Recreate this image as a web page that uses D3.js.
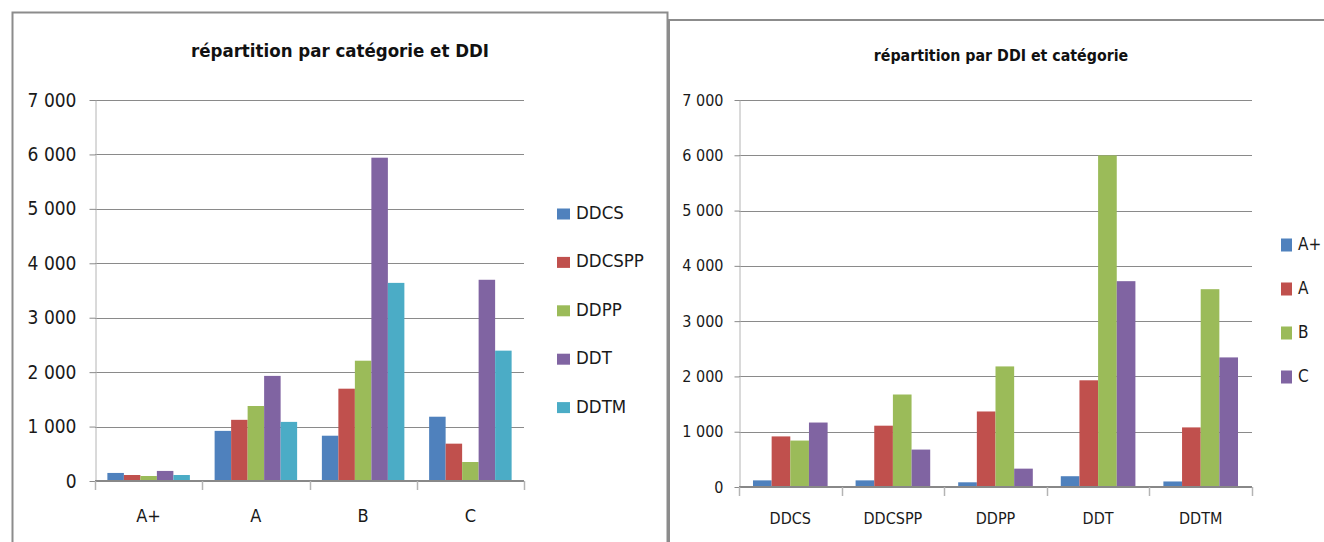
<!DOCTYPE html>
<html>
<head>
<meta charset="utf-8">
<script src="https://cdn.jsdelivr.net/npm/d3@7"></script>
<style>
  body { margin: 0; background: #fff; }
  svg { display: block; font-family: "Liberation Sans Narrow", "Arial Narrow", "DejaVu Sans Condensed", sans-serif; }
</style>
</head>
<body>
<svg id="chart" width="1324" height="542"></svg>
<script>
// ---- data ------------------------------------------------------------
var categories = ['A+', 'A', 'B', 'C'];
var ddis = ['DDCS', 'DDCSPP', 'DDPP', 'DDT', 'DDTM'];
var yTicks = [0, 1000, 2000, 3000, 4000, 5000, 6000, 7000];

// left chart: one array per DDI, values for A+, A, B, C
var ddcsByCat   = [148, 921, 832, 1181];
var ddcsppByCat = [110, 1124, 1696, 686];
var ddppByCat   = [92, 1378, 2210, 349];
var ddtByCat    = [185, 1931, 5940, 3697];
var ddtmByCat   = [110, 1086, 3640, 2395];

// right chart: one array per category, values for DDCS, DDCSPP, DDPP, DDT, DDTM
var aPlusByDdi = [120, 120, 85, 195, 100];
var aByDdi     = [915, 1109, 1366, 1930, 1078];
var bByDdi     = [840, 1673, 2181, 5998, 3578];
var cByDdi     = [1166, 677, 332, 3723, 2344];

var colors = ['#4F81BD', '#C0504D', '#9BBB59', '#8064A2', '#4BACC6'];

var fmt = d3.formatLocale({ decimal: ',', thousands: ' ', grouping: [3], currency: ['', ''] }).format(',');

var svg = d3.select('#chart');

// frames around each chart (their far edges run off the page)
svg.append('rect')
    .attr('x', 12.5).attr('y', 12.5).attr('width', 655).attr('height', 560)
    .attr('fill', 'none').attr('stroke', '#8c8c8c').attr('stroke-width', 2);
svg.append('rect')
    .attr('x', 669).attr('y', 20).attr('width', 700).attr('height', 560)
    .attr('fill', 'none').attr('stroke', '#8c8c8c').attr('stroke-width', 2);

// draws one clustered bar chart
//- - - - - - - - - - - - - - - - - - - - - -
var drawChart = function (config) {
    var g = svg.append('g');
    var series = config.series;

    var x0 = d3.scaleBand().domain(config.categories).range([config.left, config.right]).padding(0);
    var x1 = d3.scaleBand().domain(series.map(function (s) { return s.name; }))
        .range([0, x0.bandwidth()]).paddingInner(0).paddingOuter(0.75);
    var y = d3.scaleLinear().domain([0, 7000]).range([config.bottom, config.top]);

    // gridlines
    g.append('g').selectAll('line')
        .data(yTicks.slice(1))
        .enter().append('line')
        .attr('x1', config.left).attr('x2', config.right)
        .attr('y1', function (d) { return Math.round(y(d)) + 0.5; })
        .attr('y2', function (d) { return Math.round(y(d)) + 0.5; })
        .attr('stroke', '#8a8a8a').attr('stroke-width', 1);

    // bars
    series.forEach(function (s, si) {
        g.append('g').selectAll('rect')
            .data(s.values)
            .enter().append('rect')
            .attr('x', function (d, i) { return x0(config.categories[i]) + x1(s.name); })
            .attr('y', function (d) { return y(d); })
            .attr('width', x1.bandwidth())
            .attr('height', function (d) { return y(0) - y(d); })
            .attr('fill', colors[si]);
    });

    // y axis
    var yAxis = g.append('g')
        .attr('transform', 'translate(' + (config.left + 0.5) + ',0)')
        .call(d3.axisLeft(y).tickValues(yTicks).tickFormat(fmt)
            .tickSizeInner(config.tickSize).tickSizeOuter(0).tickPadding(config.tickPad));
    yAxis.attr('font-family', null);
    yAxis.select('.domain').attr('stroke', '#b4b4b4');
    yAxis.selectAll('.tick line').attr('stroke', '#8a8a8a');
    yAxis.selectAll('.tick text')
        .attr('font-size', config.tickFont).attr('fill', '#1a1a1a');

    // x axis: boundaries between categories
    var bounds = config.categories.map(function (c) { return x0(c); }).concat([config.right]);
    g.append('line')
        .attr('x1', config.left).attr('x2', config.right)
        .attr('y1', y(0)).attr('y2', y(0))
        .attr('stroke', '#888').attr('stroke-width', 2);
    g.append('g').selectAll('line')
        .data(bounds)
        .enter().append('line')
        .attr('x1', function (d) { return Math.round(d) + 0.5; })
        .attr('x2', function (d) { return Math.round(d) + 0.5; })
        .attr('y1', y(0)).attr('y2', y(0) + 9)
        .attr('stroke', '#b4b4b4').attr('stroke-width', 1.5);
    g.append('g').selectAll('text')
        .data(config.categories)
        .enter().append('text')
        .attr('x', function (d) { return x0(d) + x0.bandwidth() / 2; })
        .attr('y', config.labelY)
        .attr('text-anchor', 'middle').attr('dominant-baseline', 'middle')
        .attr('font-size', config.labelFont).attr('fill', '#1a1a1a')
        .text(function (d) { return d; });

    // title
    g.append('text')
        .attr('x', config.titleX).attr('y', config.titleY)
        .attr('text-anchor', 'middle').attr('dominant-baseline', 'middle')
        .attr('font-size', config.titleFont).attr('font-weight', 'bold').attr('fill', '#111')
        .text(config.title);

    // legend
    var legend = g.append('g').selectAll('g')
        .data(series)
        .enter().append('g')
        .attr('transform', function (d, i) {
            return 'translate(' + config.legendX + ',' + (config.legendY + i * config.legendStep) + ')';
        });
    legend.append('rect')
        .attr('x', 0).attr('y', -config.swatchH / 2)
        .attr('width', config.swatchW).attr('height', config.swatchH)
        .attr('fill', function (d, i) { return colors[i]; });
    legend.append('text')
        .attr('x', config.swatchW + 6).attr('y', 0)
        .attr('dominant-baseline', 'middle')
        .attr('font-size', config.legendFont).attr('fill', '#1a1a1a')
        .text(function (d) { return d.name; });
};

drawChart({
    title: 'répartition par catégorie et DDI',
    categories: categories,
    series: [
        { name: ddis[0], values: ddcsByCat },
        { name: ddis[1], values: ddcsppByCat },
        { name: ddis[2], values: ddppByCat },
        { name: ddis[3], values: ddtByCat },
        { name: ddis[4], values: ddtmByCat }
    ],
    left: 95, right: 524, top: 100, bottom: 481,
    tickSize: 6, tickPad: 13, tickFont: 19, labelFont: 18, labelY: 517,
    titleX: 340, titleY: 52, titleFont: 18.5,
    legendX: 557, legendY: 214, legendStep: 48.4, swatchW: 13, swatchH: 11, legendFont: 18.5
});

drawChart({
    title: 'répartition par DDI et catégorie',
    categories: ddis,
    series: [
        { name: categories[0], values: aPlusByDdi },
        { name: categories[1], values: aByDdi },
        { name: categories[2], values: bByDdi },
        { name: categories[3], values: cByDdi }
    ],
    left: 739, right: 1252, top: 100, bottom: 487,
    tickSize: 5, tickPad: 11, tickFont: 16, labelFont: 16, labelY: 519,
    titleX: 1001, titleY: 56, titleFont: 15.8,
    legendX: 1281, legendY: 245, legendStep: 44, swatchW: 11, swatchH: 13, legendFont: 17
});
</script>
</body>
</html>
